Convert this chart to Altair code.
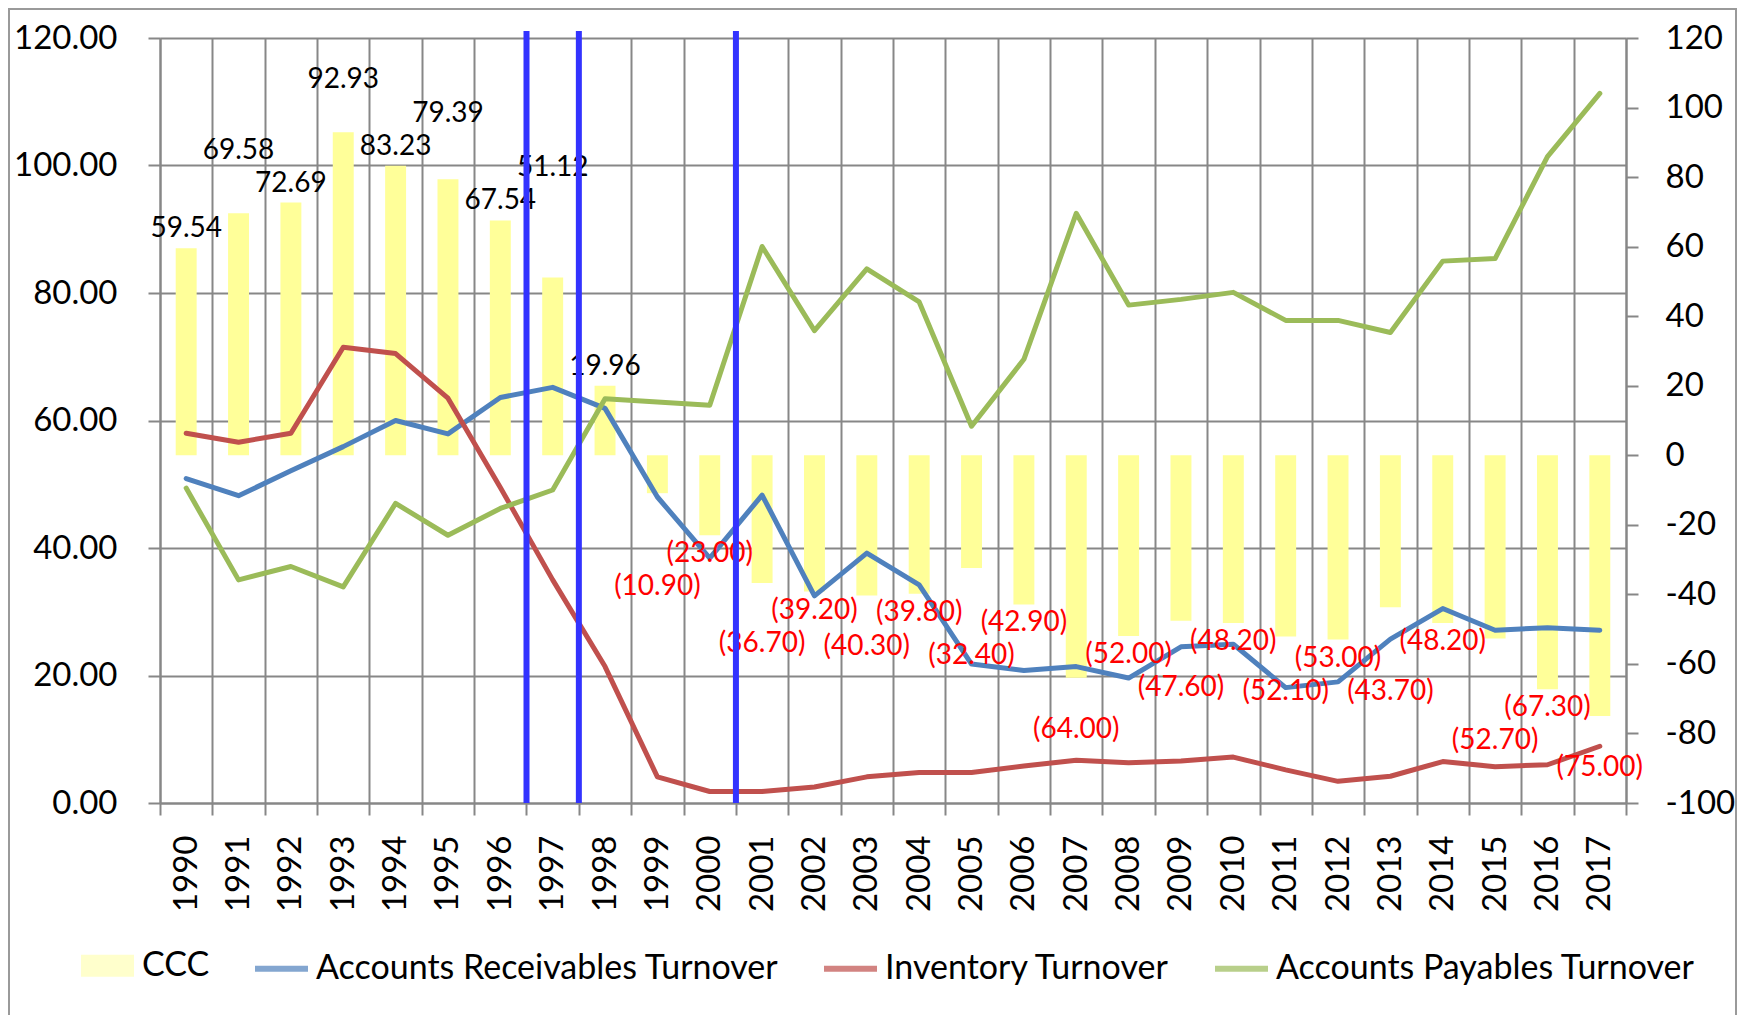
import altair as alt
import pandas as pd

years = ["1990", "1991", "1992", "1993", "1994", "1995", "1996", "1997", "1998", "1999",
         "2000", "2001", "2002", "2003", "2004", "2005", "2006", "2007", "2008", "2009",
         "2010", "2011", "2012", "2013", "2014", "2015", "2016", "2017"]

ccc = [59.54, 69.58, 72.69, 92.93, 83.23, 79.39, 67.54, 51.12, 19.96, -10.90,
       -23.00, -36.70, -39.20, -40.30, -39.80, -32.40, -42.90, -64.00, -52.00, -47.60,
       -48.20, -52.10, -53.00, -43.70, -48.20, -52.70, -67.30, -75.00]

ar_turnover = [50.9, 48.2, 52.1, 55.9, 60.0, 57.9, 63.6, 65.2, 61.9, 48.0,
               38.4, 48.3, 32.5, 39.2, 34.2, 21.8, 20.8, 21.4, 19.6, 24.5,
               24.9, 18.1, 19.0, 25.7, 30.5, 27.1, 27.5, 27.1]

inv_turnover = [58.0, 56.6, 58.0, 71.5, 70.5, 63.5, 49.5, 35.0, 21.4, 4.1,
                1.8, 1.8, 2.5, 4.1, 4.8, 4.8, 5.8, 6.7, 6.3, 6.6,
                7.2, 5.2, 3.4, 4.2, 6.5, 5.7, 6.0, 8.9]

ap_turnover = [49.4, 35.0, 37.1, 33.9, 47.0, 42.0, 46.2, 49.1, 63.4, 62.9,
               62.4, 87.3, 74.1, 83.8, 78.6, 59.1, 69.6, 92.5, 78.1, 79.0,
               80.1, 75.7, 75.7, 73.8, 85.0, 85.4, 101.4, 111.3]

marker_years = ["1997", "1998", "2001"]

line_names = ["Accounts Receivables Turnover", "Inventory Turnover", "Accounts Payables Turnover"]
line_colors = ["#4F81BD", "#C0504D", "#9BBB59"]
legend_names = ["CCC"] + line_names
bar_color = "#FFFF99"

left_ticks = [0, 20, 40, 60, 80, 100, 120]
right_ticks = [-100, -80, -60, -40, -20, 0, 20, 40, 60, 80, 100, 120]

FONT = "Lato"
GRID = "#878787"

# ---- tables built from the lists above ----
bar_df = pd.DataFrame({"year": years, "ccc": ccc})
# label anchors are derived from the data: alternate bars are staggered
# past the larger of their neighbours so that labels do not collide
n = len(ccc)
anchor = []
stagger = []
for i, v in enumerate(ccc):
    neigh = [ccc[j] for j in (i - 1, i, i + 1) if 0 <= j < n and (ccc[j] >= 0) == (v >= 0)]
    if i % 2 == 1:
        anchor.append(max(neigh) if v >= 0 else min(neigh))
        stagger.append(1)
    else:
        anchor.append(v)
        stagger.append(0)
bar_df["anchor"] = anchor
bar_df["stagger"] = stagger

line_df = pd.concat([
    pd.DataFrame({"year": years, "value": ar_turnover, "series": line_names[0]}),
    pd.DataFrame({"year": years, "value": inv_turnover, "series": line_names[1]}),
    pd.DataFrame({"year": years, "value": ap_turnover, "series": line_names[2]}),
], ignore_index=True)
marker_df = pd.DataFrame({"year": marker_years})
legend_df = pd.DataFrame({"series": legend_names})

x_scale = alt.Scale(paddingInner=0, paddingOuter=0)
right_scale = alt.Scale(domain=[-100, 120], nice=False, zero=True)


def x_enc(**kw):
    return alt.X("year:N", scale=x_scale, axis=alt.Axis(
        title=None, labelAngle=270, tickBand="extent", grid=True, gridColor=GRID, gridWidth=2,
        tickSize=12, tickColor=GRID, tickWidth=2, domainColor=GRID, domainWidth=2,
        labelFont=FONT, labelFontSize=33, labelColor="black", labelPadding=20,
    ), **kw)


frame = alt.Chart(pd.DataFrame({"k": [0]})).mark_rect(
    filled=False, color="#9a9a9a", strokeWidth=2
).encode(x=alt.value(-151), x2=alt.value(1576), y=alt.value(-29), y2=alt.value(1100))

bars = alt.Chart(bar_df).mark_bar(color=bar_color, width=alt.RelativeBandSize(0.4)).encode(
    x=x_enc(),
    y=alt.Y("ccc:Q", scale=right_scale, axis=alt.Axis(
        orient="right", title=None, values=right_ticks, grid=False,
        tickSize=12, tickColor=GRID, tickWidth=2, domainColor=GRID, domainWidth=2,
        labelFont=FONT, labelFontSize=33, labelColor="black", labelPadding=27,
        labelExpr="'' + datum.value",
    )),
)

lines = alt.Chart(line_df).mark_line(strokeWidth=5, strokeJoin="round", strokeCap="round").encode(
    x=x_enc(),
    y=alt.Y("value:Q", scale=alt.Scale(domain=[0, 120], nice=False), axis=alt.Axis(
        orient="left", title=None, values=left_ticks, format=".2f", grid=True,
        gridColor=GRID, gridWidth=2, tickSize=12, tickColor=GRID, tickWidth=2,
        domainColor=GRID, domainWidth=2, labelFont=FONT, labelFontSize=33,
        labelColor="black", labelPadding=31,
    )),
    color=alt.Color("series:N", scale=alt.Scale(domain=line_names, range=line_colors), legend=None),
)


def label_layer(positive, staggered):
    sign_test = "datum.ccc >= 0" if positive else "datum.ccc < 0"
    stag_test = "datum.stagger == 1" if staggered else "datum.stagger == 0"
    text_expr = ("format(datum.ccc, '.2f')" if positive
                 else "'(' + format(-datum.ccc, '.2f') + ')'")
    gap = 38 if staggered else 5
    return alt.Chart(bar_df).transform_filter(
        sign_test + " && " + stag_test
    ).transform_calculate(lbl=text_expr).mark_text(
        baseline="bottom" if positive else "top",
        dy=-gap if positive else gap,
        font=FONT, fontSize=28,
        color="black" if positive else "#FF0000",
    ).encode(
        x=x_enc(),
        y=alt.Y("anchor:Q", scale=right_scale, axis=None),
        text="lbl:N",
    )


labels = [label_layer(p, s) for p in (True, False) for s in (False, True)]

markers = alt.Chart(marker_df).mark_rule(color="#3333FF", strokeWidth=6).encode(
    x=x_enc(bandPosition=0),
    y=alt.value(-7),
    y2=alt.value(765),
)

rect_path = "M-1,-0.415H1V0.415H-1Z"
line_path = "M-1,0H1"
leg = alt.Legend(
    orient="none", legendX=-82, legendY=898, direction="horizontal", title=None,
    symbolSize=2809, symbolStrokeWidth=6, labelFont=FONT, labelFontSize=34,
    labelColor="black", labelOffset=5, columnPadding=33, padding=0, labelLimit=1000,
)
legend_layer = alt.Chart(legend_df).transform_filter("false").mark_point(filled=True).encode(
    shape=alt.Shape("series:N", scale=alt.Scale(domain=legend_names,
                    range=[rect_path, line_path, line_path, line_path]), legend=leg),
    fill=alt.Fill("series:N", scale=alt.Scale(domain=legend_names,
                  range=[bar_color] + line_colors), legend=leg),
    stroke=alt.Stroke("series:N", scale=alt.Scale(domain=legend_names,
                      range=["transparent"] + line_colors), legend=leg),
)

chart = alt.layer(
    frame, bars, lines, *labels, markers, legend_layer
).resolve_scale(y="independent").properties(
    width=1466, height=765,
    padding={"left": 152, "top": 30, "right": 116, "bottom": 212},
    autosize=alt.AutoSizeParams(type="none"),
).configure_view(stroke=None)

chart.save("out.html", embed_options={"renderer": "svg", "actions": False})
